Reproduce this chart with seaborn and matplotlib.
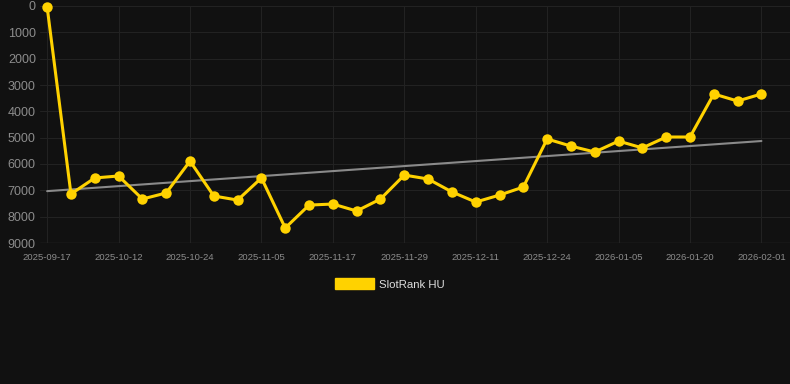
import matplotlib
matplotlib.use("Agg")
import matplotlib.pyplot as plt
from matplotlib.patches import Patch
import numpy as np
import seaborn as sns

# dates of each observation (every third is shown as a tick label)
dates = [
    "2025-09-17", "2025-09-25", "2025-10-03", "2025-10-12", "2025-10-16", "2025-10-20",
    "2025-10-24", "2025-10-28", "2025-11-01", "2025-11-05", "2025-11-09", "2025-11-13",
    "2025-11-17", "2025-11-21", "2025-11-25", "2025-11-29", "2025-12-03", "2025-12-07",
    "2025-12-11", "2025-12-15", "2025-12-20", "2025-12-24", "2025-12-28", "2026-01-01",
    "2026-01-05", "2026-01-10", "2026-01-15", "2026-01-20", "2026-01-24", "2026-01-28",
    "2026-02-01",
]
rank = [
    40, 7140, 6530, 6455, 7330, 7100, 5890, 7215, 7370, 6530, 8430,
    7560, 7520, 7785, 7330, 6420, 6570, 7060, 7445, 7180, 6875,
    5050, 5320, 5545, 5130, 5390, 4975, 4975, 3340, 3610, 3340,
]
series_name = "SlotRank HU"
y_ticks = [0, 1000, 2000, 3000, 4000, 5000, 6000, 7000, 8000, 9000]

bg = "#111111"
gold = "#FFD200"

sns.set_theme(style="dark")
plt.rcParams["font.family"] = ["Liberation Sans", "DejaVu Sans"]

fig = plt.figure(figsize=(7.9, 3.84), dpi=100, facecolor=bg)
ax = fig.add_axes([40 / 790, 1 - 243 / 384, 750 / 790, 237 / 384])
ax.set_facecolor(bg)

idx = np.arange(len(dates))

# linear trend line
sns.regplot(x=idx, y=rank, scatter=False, ci=None, truncate=True, ax=ax,
            line_kws={"color": "#8a8a8a", "lw": 1.5, "zorder": 2})

sns.lineplot(x=idx, y=rank, ax=ax, color=gold, lw=2.2, marker="o",
             markersize=7.5, markeredgewidth=0, zorder=3, clip_on=False)

ax.set_xlim(-0.3, 31.2)
ax.set_ylim(9000, 0)
ax.set_yticks(y_ticks)
ax.set_yticklabels([str(v) for v in y_ticks])
ax.set_xticks(idx[::3])
ax.set_xticklabels(dates[::3])

ax.grid(True, color="#222222", lw=0.8)
for s in ax.spines.values():
    s.set_visible(False)
ax.axhline(9000, color="#2c2c2c", lw=1, zorder=1)

ax.tick_params(axis="y", labelsize=9, colors="#8c8c8c", length=0, pad=3)
ax.tick_params(axis="x", labelsize=6.8, colors="#8c8c8c", length=0, pad=7)
ax.set_xlabel("")
ax.set_ylabel("")

handle = Patch(facecolor=gold, edgecolor=gold)
fig.legend([handle], [series_name], loc="center", bbox_to_anchor=(390 / 790, 1 - 284 / 384),
           frameon=False, fontsize=8.2, labelcolor="#dddddd",
           handlelength=3.4, handleheight=1.1, handletextpad=0.5)

fig.savefig("out.png", dpi=100, facecolor=bg)
